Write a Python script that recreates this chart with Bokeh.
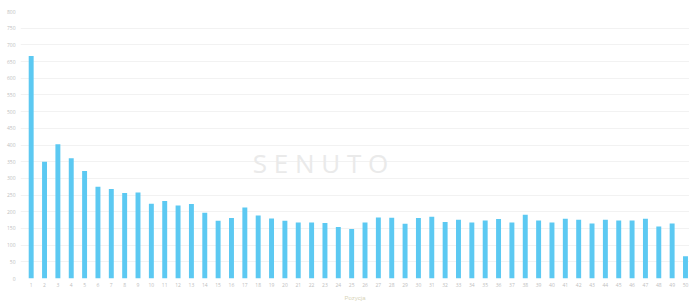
from bokeh.plotting import figure
from bokeh.models import FixedTicker, Label, ColumnDataSource
from bokeh.embed import file_html
from bokeh.resources import INLINE

positions = list(range(1, 51))
counts = [667, 350, 402, 360, 322, 275, 268, 256, 258, 224,
          232, 219, 223, 197, 173, 181, 213, 189, 180, 173,
          168, 168, 166, 154, 148, 168, 183, 182, 164, 181,
          185, 169, 176, 168, 174, 178, 168, 191, 174, 168,
          179, 176, 165, 176, 174, 174, 179, 156, 165, 67]
y_ticks = list(range(0, 801, 50))
x_title = "Pozycja"

src = ColumnDataSource(dict(x=positions, y=counts))

p = figure(frame_width=669, frame_height=267, output_backend="svg", toolbar_location=None,
           x_range=(0.2, 50.3), y_range=(0, 800),
           min_border_top=11, min_border_right=0, min_border_left=20, min_border_bottom=0)
p.outline_line_color = None
p.background_fill_color = "white"

p.vbar(x="x", top="y", width=0.37, source=src, color="#5cc9f2", line_color=None)

p.yaxis.ticker = FixedTicker(ticks=y_ticks)
p.xaxis.ticker = FixedTicker(ticks=positions)
for ax in (p.xaxis[0], p.yaxis[0]):
    ax.axis_line_color = None
    ax.major_tick_line_color = None
    ax.minor_tick_line_color = None
    ax.major_tick_out = 0
    ax.major_tick_in = 0
    ax.minor_tick_out = 0
    ax.minor_tick_in = 0
    ax.major_label_text_font_size = "5px"
    ax.major_label_text_color = "#c0c0c0"
    ax.major_label_text_font = "Open Sans"
p.yaxis.major_label_standoff = 5
p.xaxis.major_label_standoff = 4
p.xaxis.axis_label = x_title
p.xaxis.axis_label_text_font_size = "6px"
p.xaxis.axis_label_text_color = "#d8d4b8"
p.xaxis.axis_label_text_font_style = "normal"
p.xaxis.axis_label_standoff = 5

p.xgrid.grid_line_color = None
p.ygrid.grid_line_color = "#f2f2f2"

wm = Label(x=300, y=116, x_units="screen", y_units="screen", text="S E N U T O",
           text_font="Open Sans", text_font_size="26px", text_color="#eaeaea",
           text_align="center", text_baseline="middle")
p.add_layout(wm)

open("out.html", "w").write(file_html(p, INLINE))
